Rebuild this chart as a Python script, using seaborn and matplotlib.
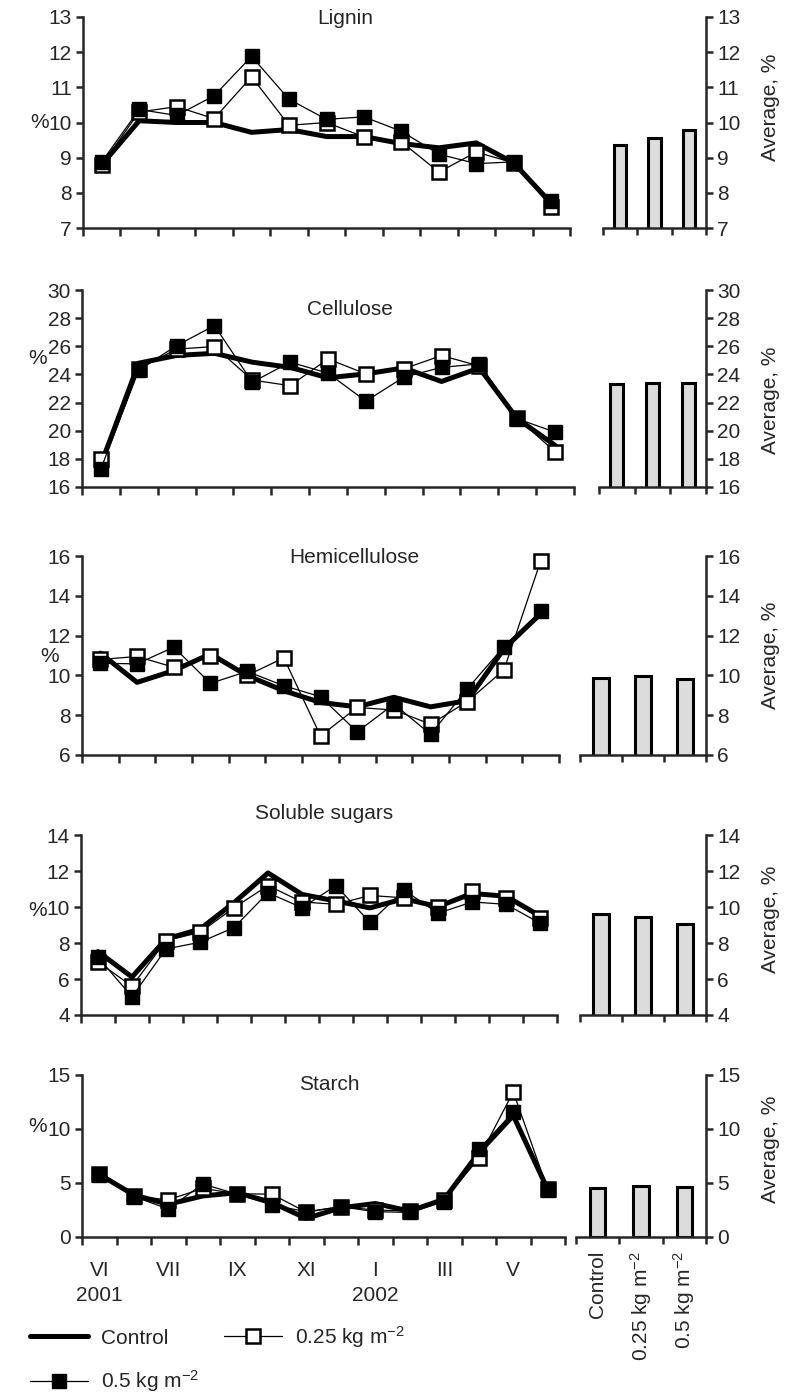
import numpy as np
import matplotlib
matplotlib.use("Agg")
import matplotlib.pyplot as plt
import seaborn as sns
from matplotlib.lines import Line2D

# Series names and bar categories
series_names = ["Control", "0.25 kg m$^{-2}$", "0.5 kg m$^{-2}$"]
groups = ["Control", "0.25 kg m$^{-2}$", "0.5 kg m$^{-2}$"]
month_labels = ["VI\n2001", "VII", "IX", "XI", "I\n2002", "III", "V"]

# Lignin (%)
lignin_ctrl = [8.8, 10.05, 10.0, 10.0, 9.72, 9.8, 9.6, 9.6, 9.4, 9.28, 9.42, 8.85, 7.7]
lignin_025 = [8.8, 10.3, 10.45, 10.11, 11.3, 9.92, 10.0, 9.59, 9.45, 8.59, 9.16, 8.85, 7.6]
lignin_05 = [8.88, 10.37, 10.2, 10.76, 11.88, 10.66, 10.09, 10.16, 9.75, 9.1, 8.83, 8.88, 7.78]
lignin_avg = [9.35, 9.55, 9.78]

# Cellulose (%)
cellulose_ctrl = [17.6, 24.8, 25.35, 25.5, 24.87, 24.5, 23.76, 24.04, 24.46, 23.5, 24.46, 20.85, 18.96]
cellulose_025 = [18.0, 24.4, 25.8, 25.98, 23.6, 23.2, 25.1, 24.04, 24.4, 25.34, 24.6, 20.9, 18.5]
cellulose_05 = [17.3, 24.3, 26.05, 27.47, 23.45, 24.87, 24.09, 22.1, 23.8, 24.5, 24.75, 20.85, 19.9]
cellulose_avg = [23.3, 23.4, 23.4]

# Hemicellulose (%)
hemi_ctrl = [11.12, 9.65, 10.24, 11.08, 9.99, 9.23, 8.64, 8.42, 8.9, 8.42, 8.73, 11.34, 13.1]
hemi_025 = [10.8, 10.95, 10.41, 10.98, 10.0, 10.88, 6.96, 8.39, 8.26, 7.55, 8.68, 10.28, 15.75]
hemi_05 = [10.61, 10.58, 11.42, 9.6, 10.2, 9.48, 8.93, 7.16, 8.56, 7.04, 9.32, 11.45, 13.22]
hemi_avg = [9.89, 9.98, 9.84]

# Soluble sugars (%)
sugars_ctrl = [7.52, 6.11, 8.22, 8.77, 10.24, 11.89, 10.7, 10.33, 9.95, 10.46, 10.02, 10.75, 10.6, 9.5]
sugars_025 = [6.95, 5.6, 8.13, 8.59, 9.96, 11.19, 10.28, 10.15, 10.64, 10.51, 10.02, 10.88, 10.5, 9.41]
sugars_05 = [7.21, 5.01, 7.67, 8.04, 8.86, 10.79, 9.96, 11.19, 9.14, 10.94, 9.65, 10.28, 10.15, 9.1]
sugars_avg = [9.59, 9.43, 9.04]

# Starch (%)
starch_ctrl = [5.8, 3.9, 3.03, 3.8, 4.1, 3.2, 1.72, 2.7, 3.1, 2.4, 3.5, 7.8, 11.25, 4.4]
starch_025 = [5.8, 3.8, 3.44, 4.5, 4.0, 3.97, 2.3, 2.8, 2.5, 2.4, 3.4, 7.28, 13.44, 4.4]
starch_05 = [5.78, 3.75, 2.6, 4.9, 3.97, 2.97, 2.34, 2.81, 2.34, 2.28, 3.28, 8.13, 11.56, 4.38]
starch_avg = [4.5, 4.75, 4.65]

sns.set_style("ticks")
plt.rcParams['font.family'] = ['Liberation Sans', 'DejaVu Sans']
plt.rcParams['mathtext.default'] = 'regular'
plt.rcParams['font.size'] = 15

W, H = 787, 1393
fig = plt.figure(figsize=(W / 100, H / 100), dpi=100)


def rect(x0, x1, y0, y1):
    # pixel box -> figure fraction
    return [x0 / W, 1 - y1 / H, (x1 - x0) / W, (y1 - y0) / H]


# title, series, averages, y range, y step, layout (pixels), title spot, "%" spot, "Average" spot
panels = [
    ("Lignin", (lignin_ctrl, lignin_025, lignin_05), lignin_avg, (7, 13), 1,
     (83, 570, 603, 706, 17, 228), (0.538, 0.995), (40, 123), 0.57),
    ("Cellulose", (cellulose_ctrl, cellulose_025, cellulose_05), cellulose_avg, (16, 30), 2,
     (82, 574, 599, 706, 290, 487), (0.545, 0.90), (38, 358), 0.44),
    ("Hemicellulose", (hemi_ctrl, hemi_025, hemi_05), hemi_avg, (6, 16), 2,
     (82, 559, 580, 706, 556, 755), (0.57, 0.99), (50, 656), 0.5),
    ("Soluble sugars", (sugars_ctrl, sugars_025, sugars_05), sugars_avg, (4, 14), 2,
     (81, 557, 580, 706, 835, 1015), (0.51, 1.12), (38, 910), 0.53),
    ("Starch", (starch_ctrl, starch_025, starch_05), starch_avg, (0, 15), 5,
     (82, 565, 576, 706, 1075, 1237), (0.513, 0.94), (38, 1127), 0.54),
]

for i, (title, (ctrl, v025, v05), avg, (lo, hi), step, lay, tpos, ppos, apos) in enumerate(panels):
    x0, x1, bx0, bx1, y0, y1 = lay
    last = i == len(panels) - 1

    # left: time series
    ax = fig.add_axes(rect(x0, x1, y0, y1))
    n = len(ctrl)
    xs = np.arange(n)
    sns.lineplot(x=xs, y=ctrl, ax=ax, color='black', linewidth=3.6, zorder=3, clip_on=False)
    sns.lineplot(x=xs, y=v025, ax=ax, color='black', linewidth=0.9, marker='s', markersize=10,
                 markerfacecolor='white', markeredgecolor='black', markeredgewidth=1.8,
                 zorder=4, clip_on=False)
    sns.lineplot(x=xs, y=v05, ax=ax, color='black', linewidth=0.9, marker='s', markersize=10,
                 markerfacecolor='black', markeredgecolor='black', markeredgewidth=1.0,
                 zorder=5, clip_on=False)
    ax.set_xlim(-0.5, n - 0.5)
    ax.set_ylim(lo, hi)
    ax.set_yticks(np.arange(lo, hi + 0.1, step))
    ax.set_xticks(np.arange(-0.5, n), minor=True)
    if last:
        ax.set_xticks(np.arange(0, 13, 2))
        ax.set_xticklabels(month_labels, linespacing=1.4)
    else:
        ax.set_xticks([])
    ax.tick_params(axis='x', which='major', length=0, pad=17, labelsize=15)
    ax.tick_params(axis='x', which='minor', length=6, width=1.8, direction='out')
    ax.tick_params(axis='y', length=5, width=1.8, direction='out', pad=3, labelsize=15)
    sns.despine(ax=ax)
    for s in ('left', 'bottom'):
        ax.spines[s].set_linewidth(1.8)
    ax.set_xlabel('')
    ax.set_ylabel('')
    fig.text(ppos[0] / W, 1 - ppos[1] / H, '%', ha='center', va='center', fontsize=15)
    ax.text(tpos[0], tpos[1], title, transform=ax.transAxes, ha='center', va='center', fontsize=15)

    # right: averages
    bax = fig.add_axes(rect(bx0, bx1, y0, y1))
    sns.barplot(x=groups, y=avg, ax=bax, color='#dcdcdc', saturation=1, edgecolor='black',
                linewidth=2.2, width=0.36)
    bax.set_xlim(-0.5, 2.5)
    bax.set_ylim(lo, hi)
    bax.set_yticks(np.arange(lo, hi + 0.1, step))
    bax.yaxis.tick_right()
    bax.yaxis.set_label_position('right')
    bax.spines['left'].set_visible(False)
    bax.spines['top'].set_visible(False)
    for s in ('right', 'bottom'):
        bax.spines[s].set_linewidth(1.8)
    bax.set_xticks(np.arange(-0.5, 3), minor=True)
    if last:
        bax.set_xticks([0, 1, 2])
        bax.set_xticklabels(groups, rotation=90, va='top', ha='center')
    else:
        bax.set_xticks([])
    bax.tick_params(axis='x', which='major', length=0, pad=10, labelsize=15)
    bax.tick_params(axis='x', which='minor', length=5, width=1.8, direction='out')
    bax.tick_params(axis='y', length=5, width=1.8, direction='out', pad=3, labelsize=15)
    bax.set_xlabel('')
    bax.set_ylabel('Average, %', fontsize=15)
    bax.yaxis.set_label_coords((761 - bx0) / (bx1 - bx0), apos)

# legend at the bottom
handles = [
    Line2D([], [], color='black', linewidth=3.6),
    Line2D([], [], color='black', linewidth=0.9, marker='s', markersize=10,
           markerfacecolor='black', markeredgecolor='black'),
    Line2D([], [], color='black', linewidth=0.9, marker='s', markersize=10,
           markerfacecolor='white', markeredgecolor='black', markeredgewidth=1.8),
]
labels = [series_names[0], series_names[2], series_names[1]]
fig.legend(handles, labels, loc='upper left', bbox_to_anchor=(30 / W, 1 - 1324 / H), ncol=2,
           frameon=False, handlelength=2.8, handletextpad=0.6, columnspacing=1.2,
           labelspacing=1.0, borderpad=0, borderaxespad=0, fontsize=15)

fig.savefig("out.png", dpi=100)
